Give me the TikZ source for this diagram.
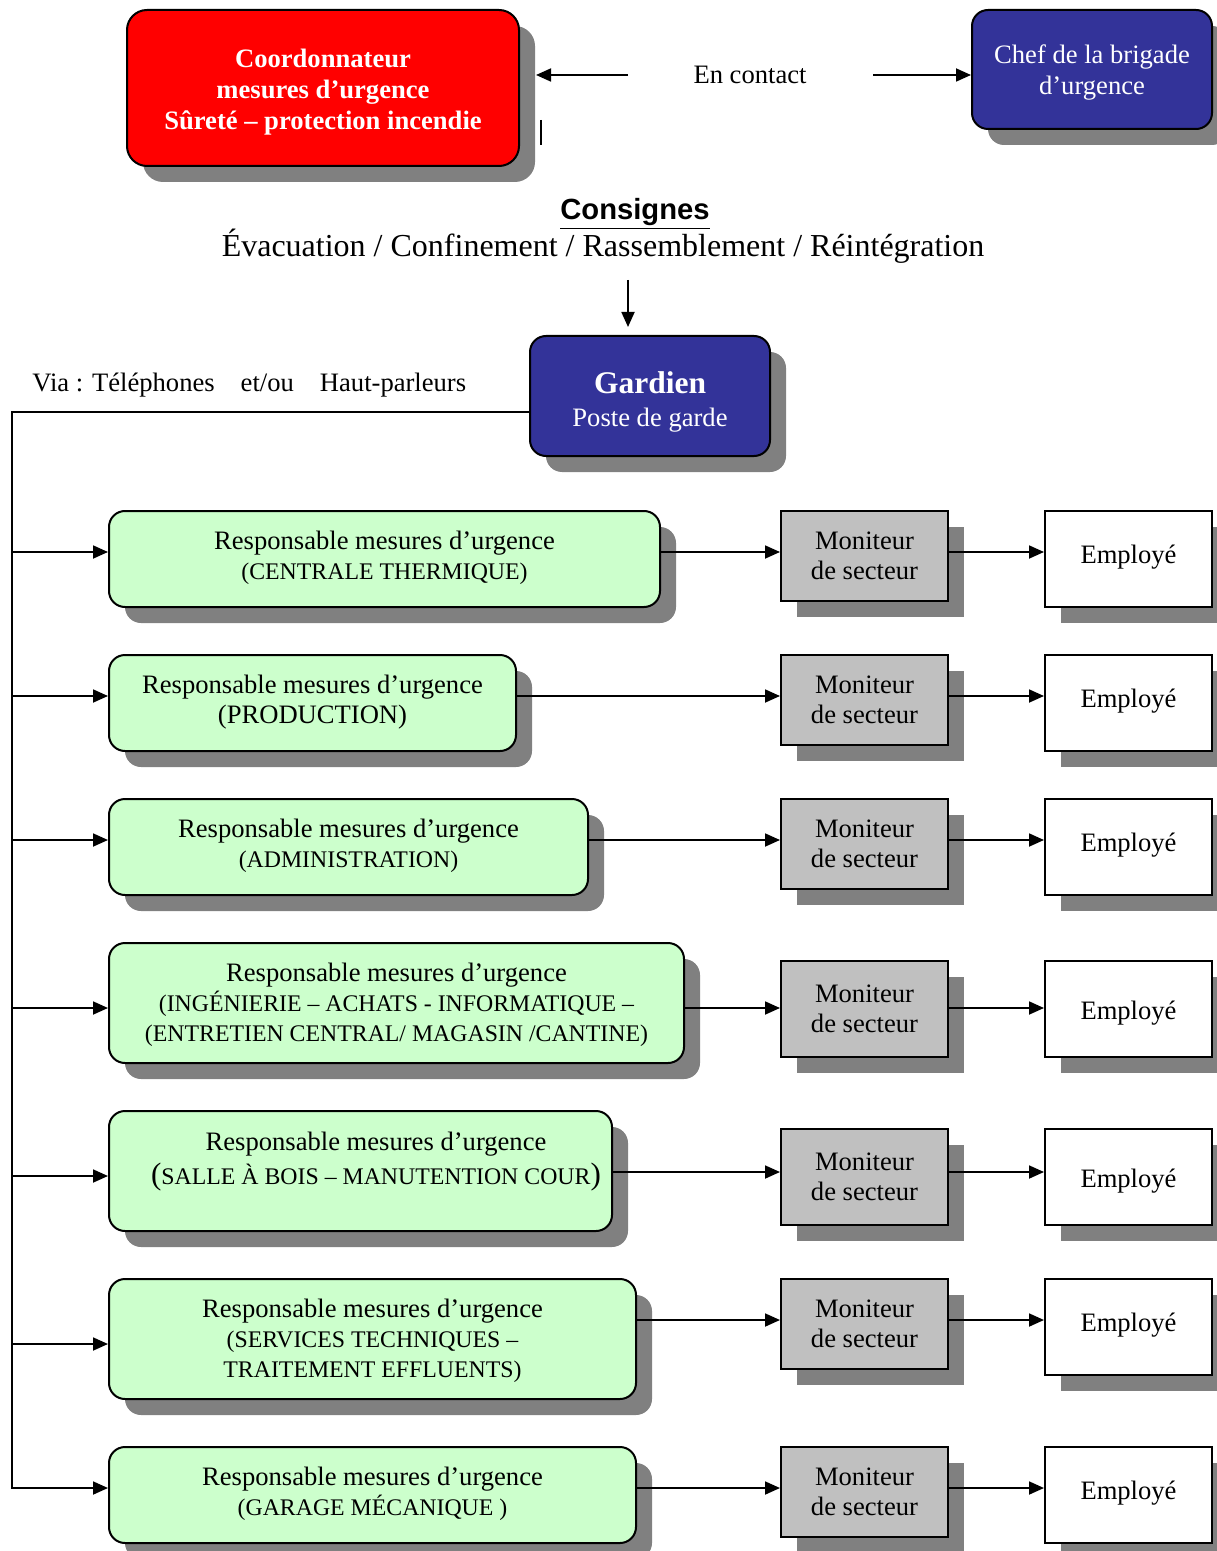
\documentclass[tikz,border=0pt]{standalone}
\usepackage{fontspec}
\setmainfont{Liberation Serif}
\setsansfont{Liberation Sans}
\usetikzlibrary{shadows,arrows.meta,calc}

\definecolor{alertred}{RGB}{255,0,0}
\definecolor{navy}{RGB}{51,51,153}
\definecolor{mint}{RGB}{204,255,204}
\definecolor{silver}{RGB}{192,192,192}
\definecolor{shade}{RGB}{128,128,128}

\newcommand{\mainsize}{\fontsize{13.3}{15}\selectfont}
\newcommand{\smallsize}{\fontsize{11.9}{14.5}\selectfont}
\newcommand{\bigparen}[1]{{\fontsize{15.5}{15}\selectfont #1}}

\tikzset{
  box/.style={draw=black, line width=1pt, inner sep=0pt,
    drop shadow={shadow xshift=8pt, shadow yshift=-8pt, opacity=1, fill=shade}},
  roundbox/.style={box, rounded corners=8pt},
  redbox/.style={roundbox, rounded corners=10pt, fill=alertred},
  bluebox/.style={roundbox, fill=navy},
  greenbox/.style={roundbox, fill=mint},
  monbox/.style={box, fill=silver, minimum width=83.5pt, align=center,
    font=\fontsize{13.3}{15}\selectfont},
  empbox/.style={box, fill=white, minimum width=83.5pt},
  label/.style={align=center, inner sep=0pt, font=\mainsize},
  whitelabel/.style={label, text=white},
  link/.style={line width=0.9pt, -{Triangle[length=7.5pt,width=6.5pt]}},
  wire/.style={line width=0.9pt},
}

\begin{document}
\begin{tikzpicture}[x=0.5pt, y=-0.5pt, font=\mainsize]
\useasboundingbox (0,0) rectangle (1216,1551);

% ---- top: coordinator and brigade chief
\node[redbox, minimum width=196pt, minimum height=78pt] (coord) at (323,88) {};
\node[whitelabel, font=\fontsize{13.3}{15.5}\selectfont\bfseries] (coordtext) at (323,92)
  {Coordonnateur\\mesures d’urgence\\Sûreté – protection incendie};
\node[bluebox, minimum width=120pt, minimum height=59.5pt] (chef) at (1092,69.5) {};
\node[whitelabel, font=\fontsize{13.3}{15.5}\selectfont] (cheftext) at (1092,72.5)
  {Chef de la brigade\\d’urgence};

\node[label] (contact) at (750,75) {En contact};
\coordinate (ca) at (628,75);
\coordinate (cb) at (873,75);
\draw[link] (ca) -- ($(coord.east |- ca)+(16,0)$);
\draw[link] (cb) -- (chef.west |- cb);
\coordinate (tk1) at (541,120);
\coordinate (tk2) at (541,145);
\draw[line width=1pt] (tk1) -- (tk2);

% ---- instructions
\node[inner sep=0pt, font=\fontsize{14.6}{17}\selectfont\sffamily\bfseries]
  (consignes) at (635,214) {\underline{Consignes}};
\node[inner sep=0pt, font=\fontsize{16}{18}\selectfont] (modes) at (603,246)
  {Évacuation / Confinement / Rassemblement / Réintégration};
\coordinate (ga) at (628,280);
\coordinate (gb) at (628,327);
\draw[link] (ga) -- (gb);

% ---- guard post
\node[bluebox, minimum width=120pt, minimum height=60pt] (gardien) at (650,396) {};
\node[whitelabel, font=\fontsize{13.3}{16.5}\selectfont] (gardientext) at (650,402)
  {{\fontsize{15.75}{17}\selectfont\bfseries Gardien}\\Poste de garde};
\node[label, anchor=west] (via) at (32,385)
  {Via : Téléphones\hspace{13pt}et/ou\hspace{13pt}Haut-parleurs};

% ---- emergency managers
\node[greenbox, minimum width=275.5pt, minimum height=48pt] (r1) at (384.5,559) {};
\node[greenbox, minimum width=203.5pt, minimum height=48pt] (r2) at (312.5,703) {};
\node[greenbox, minimum width=239.5pt, minimum height=48pt] (r3) at (348.5,847) {};
\node[greenbox, minimum width=287.5pt, minimum height=60pt] (r4) at (396.5,1003) {};
\node[greenbox, minimum width=251.5pt, minimum height=60pt] (r5) at (360.5,1171) {};
\node[greenbox, minimum width=263.5pt, minimum height=60pt] (r6) at (372.5,1339) {};
\node[greenbox, minimum width=263.5pt, minimum height=48pt] (r7) at (372.5,1495) {};

\node[label] (t1) at (384.5,558)
  {Responsable mesures d’urgence\\{\smallsize (CENTRALE THERMIQUE)}};
\node[label] (t2) at (312.5,702.5)
  {Responsable mesures d’urgence\\(PRODUCTION)};
\node[label] (t3) at (348.5,846)
  {Responsable mesures d’urgence\\{\smallsize (ADMINISTRATION)}};
\node[label] (t4) at (396.5,1005)
  {Responsable mesures d’urgence\\{\smallsize (INGÉNIERIE – ACHATS - INFORMATIQUE –}\\{\smallsize (ENTRETIEN CENTRAL/ MAGASIN /CANTINE)}};
\node[label] (t5) at (376,1162)
  {Responsable mesures d’urgence\\[2pt]\bigparen{(}{\smallsize SALLE À BOIS – MANUTENTION COUR}\bigparen{)}};
\node[label] (t6) at (372.5,1341)
  {Responsable mesures d’urgence\\{\smallsize (SERVICES TECHNIQUES –}\\{\smallsize TRAITEMENT EFFLUENTS)}};
\node[label] (t7) at (372.5,1493.5)
  {Responsable mesures d’urgence\\{\smallsize (GARAGE MÉCANIQUE )}};

% ---- sector monitors
\node[monbox, minimum height=45pt] (m1) at (864.5,556) {Moniteur\\de secteur};
\node[monbox, minimum height=45pt] (m2) at (864.5,700) {Moniteur\\de secteur};
\node[monbox, minimum height=45pt] (m3) at (864.5,844) {Moniteur\\de secteur};
\node[monbox, minimum height=48pt] (m4) at (864.5,1009) {Moniteur\\de secteur};
\node[monbox, minimum height=48pt] (m5) at (864.5,1177) {Moniteur\\de secteur};
\node[monbox, minimum height=45pt] (m6) at (864.5,1324) {Moniteur\\de secteur};
\node[monbox, minimum height=45pt] (m7) at (864.5,1492) {Moniteur\\de secteur};

% ---- employees
\node[empbox, minimum height=48pt] (e1) at (1128.5,559) {};
\node[empbox, minimum height=48pt] (e2) at (1128.5,703) {};
\node[empbox, minimum height=48pt] (e3) at (1128.5,847) {};
\node[empbox, minimum height=48pt] (e4) at (1128.5,1009) {};
\node[empbox, minimum height=48pt] (e5) at (1128.5,1177) {};
\node[empbox, minimum height=48pt] (e6) at (1128.5,1327) {};
\node[empbox, minimum height=48pt] (e7) at (1128.5,1495) {};
\foreach \i/\y in {1/557, 2/701, 3/845, 4/1013, 5/1181, 6/1325, 7/1493}
  \node[label] (et\i) at (1128.5,\y) {Employé};

% ---- distribution bus from the guard post
\coordinate (bustop) at (12,412);
\foreach \i/\y in {1/552, 2/696, 3/840, 4/1008, 5/1176, 6/1344, 7/1488}
  \coordinate (b\i) at (12,\y);
\draw[link] (gardien.west |- bustop) -- (bustop) -- (b7) -- (b7 -| r7.west);
\foreach \i in {1,...,6}
  \draw[link] (b\i) -- (b\i -| r\i.west);

% ---- manager -> monitor -> employee
\foreach \i/\y in {1/552, 2/696, 3/840, 4/1008, 5/1172, 6/1320, 7/1488}
  \coordinate (h\i) at (0,\y);
\foreach \i in {1,...,7}{
  \draw[link] (r\i.east |- h\i) -- (m\i.west |- h\i);
  \draw[link] (m\i.east |- h\i) -- (e\i.west |- h\i);
}
\end{tikzpicture}
\end{document}
